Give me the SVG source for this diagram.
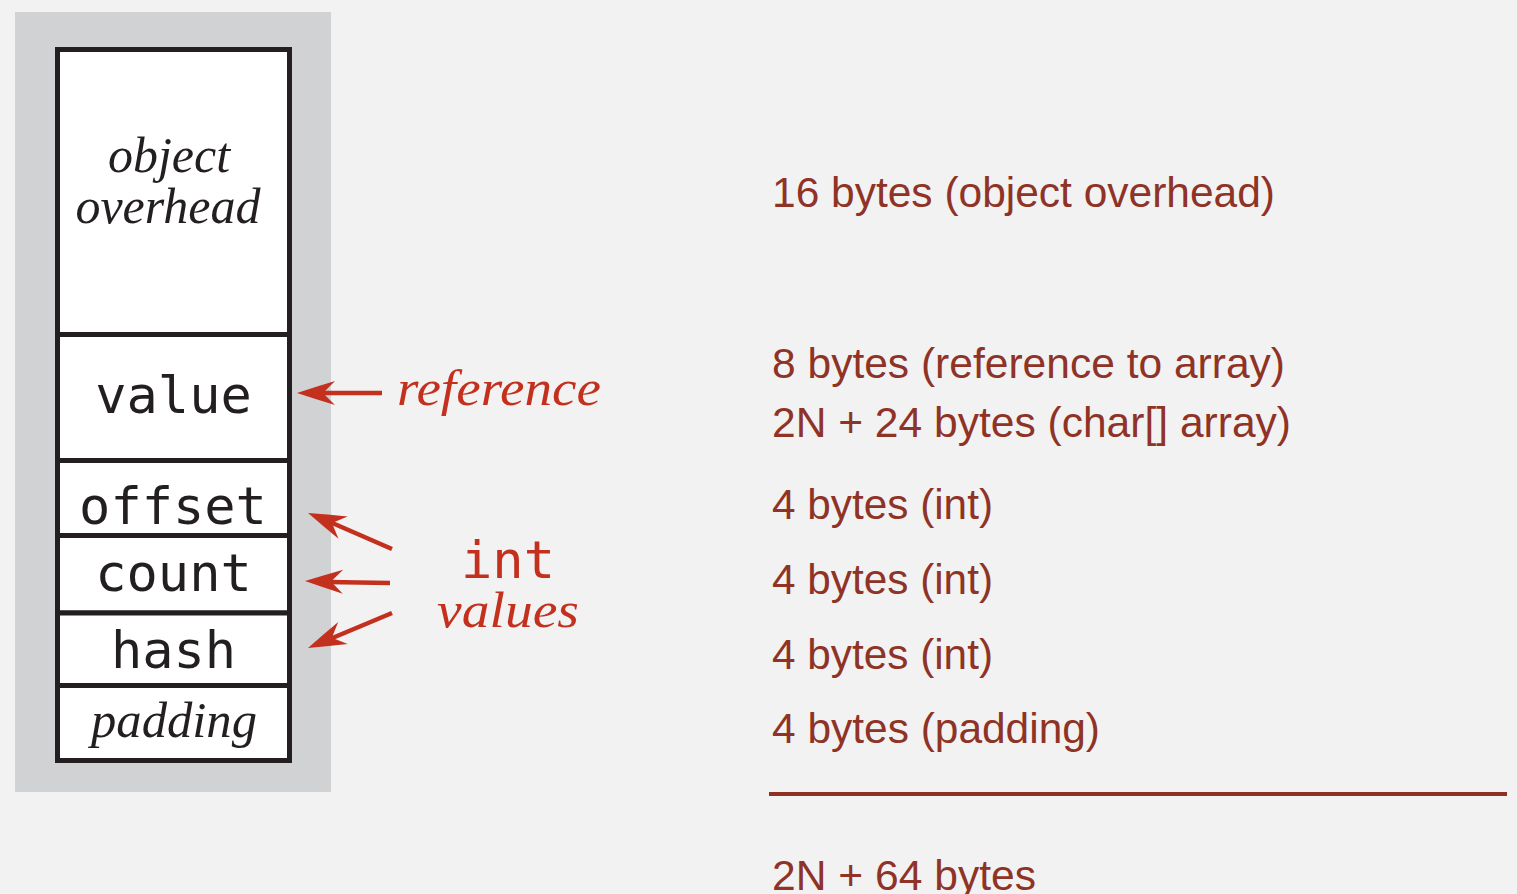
<svg xmlns="http://www.w3.org/2000/svg" xmlns:xlink="http://www.w3.org/1999/xlink" width="1517" height="894" viewBox="0 0 1517 894">
<style>
.cell{fill:#ffffff;stroke:#231f20;stroke-width:5}
.mono{font-family:"DejaVu Sans Mono","Liberation Mono",monospace;font-size:52px;fill:#231f20;text-anchor:middle}
.ital{font-family:"Liberation Serif","DejaVu Serif",serif;font-style:italic;font-size:50px;fill:#231f20;text-anchor:middle}
.red{fill:#c4301e}
.arr{stroke:#c4301e;stroke-width:4.5;fill:none}
.desc{font-family:"Liberation Sans",Arial,sans-serif;font-size:42px;fill:#8f3326}
</style>
<defs>
<path id="head" d="M0,0 Q-18,-6 -38,-12 L-26,0 L-38,12 Q-18,6 0,0 Z" fill="#c4301e"/>
</defs>
<rect width="1517" height="894" fill="#f2f2f2"/>
<rect id="panel" x="15" y="12" width="316" height="780" fill="#d1d2d4"/>
<g id="overhead">
<rect class="cell" x="57.5" y="49.5" width="232" height="285"/>
<text class="ital" x="169" y="172">object</text>
<text class="ital" x="168" y="223">overhead</text>
</g>
<g id="value">
<rect class="cell" x="57.5" y="334.5" width="232" height="126"/>
<text class="mono" x="173.5" y="413">value</text>
</g>
<g id="offset">
<rect class="cell" x="57.5" y="460.5" width="232" height="75"/>
<text class="mono" x="173" y="524">offset</text>
</g>
<g id="count">
<rect class="cell" x="57.5" y="535.5" width="232" height="77.5"/>
<text class="mono" x="173.5" y="591">count</text>
</g>
<g id="hash">
<rect class="cell" x="57.5" y="613" width="232" height="72.5"/>
<text class="mono" x="173.5" y="668">hash</text>
</g>
<g id="padding">
<rect class="cell" x="57.5" y="685.5" width="232" height="75"/>
<text class="ital" x="174" y="737" textLength="166" lengthAdjust="spacingAndGlyphs">padding</text>
</g>
<g id="connectors">
<line class="arr" x1="382" y1="393" x2="320" y2="393"/>
<use xlink:href="#head" transform="translate(297,393) rotate(180)"/>
<line class="arr" x1="392" y1="549" x2="330" y2="522"/>
<use xlink:href="#head" transform="translate(308,513) rotate(202.6)"/>
<line class="arr" x1="390" y1="583" x2="328" y2="582"/>
<use xlink:href="#head" transform="translate(305,581) rotate(181)"/>
<line class="arr" x1="392" y1="613" x2="330" y2="639"/>
<use xlink:href="#head" transform="translate(308,648) rotate(156.8)"/>
</g>
<g id="labels">
<text class="ital red" x="397" y="405" style="text-anchor:start" textLength="204" lengthAdjust="spacingAndGlyphs" font-size="54">reference</text>
<text class="mono red" x="508" y="578">int</text>
<text class="ital red" x="508" y="627" textLength="142" lengthAdjust="spacingAndGlyphs" font-size="54">values</text>
</g>
<g id="sizes">
<text class="desc" x="772" y="207" textLength="503" lengthAdjust="spacingAndGlyphs">16 bytes (object overhead)</text>
<text class="desc" x="772" y="378" textLength="513" lengthAdjust="spacingAndGlyphs">8 bytes (reference to array)</text>
<text class="desc" x="772" y="437" textLength="519" lengthAdjust="spacingAndGlyphs">2N + 24 bytes (char[] array)</text>
<text class="desc" x="772" y="519" textLength="221" lengthAdjust="spacingAndGlyphs">4 bytes (int)</text>
<text class="desc" x="772" y="594" textLength="221" lengthAdjust="spacingAndGlyphs">4 bytes (int)</text>
<text class="desc" x="772" y="669" textLength="221" lengthAdjust="spacingAndGlyphs">4 bytes (int)</text>
<text class="desc" x="772" y="743" textLength="328" lengthAdjust="spacingAndGlyphs">4 bytes (padding)</text>
<line x1="769" y1="794" x2="1507" y2="794" stroke="#8e3024" stroke-width="4"/>
<text class="desc" x="772" y="890" textLength="264" lengthAdjust="spacingAndGlyphs">2N + 64 bytes</text>
</g>
</svg>
